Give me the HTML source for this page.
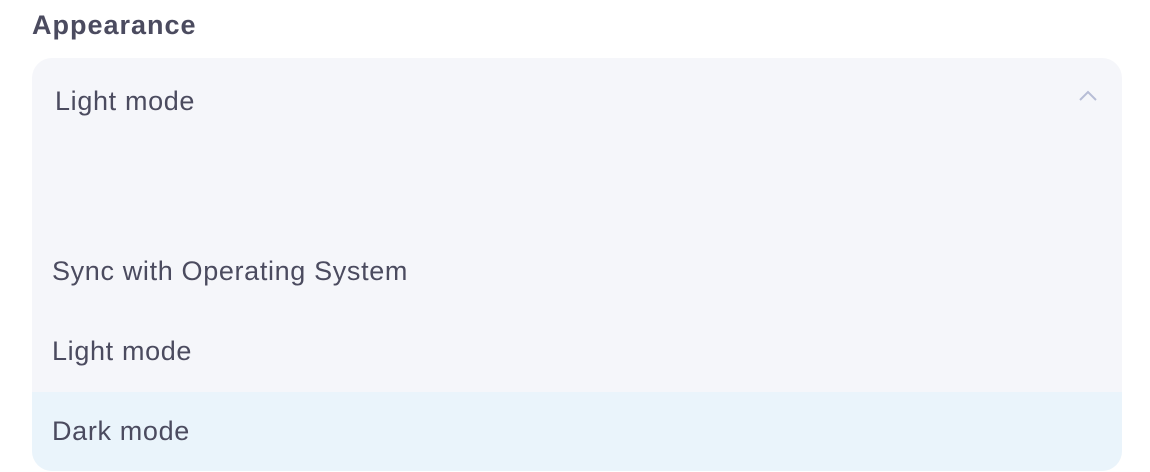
<!DOCTYPE html>
<html><head><style>
html,body{margin:0;padding:0;background:#fff;width:1150px;height:472px;overflow:hidden;font-family:"Liberation Sans",sans-serif;color:#4b4b5f}
.h{position:absolute;left:32px;top:10px;font-size:27px;font-weight:bold;color:#4b4b5f;letter-spacing:1px}
.box{position:absolute;left:32px;top:58px;width:1090px;height:413px;background:#f5f6fa;border-radius:20px;overflow:hidden}
.t{position:absolute;font-size:27px;letter-spacing:0.65px}
.hl{position:absolute;left:0;top:334px;width:1090px;height:79px;background:#eaf4fb}
</style></head><body>
<div class="h">Appearance</div>
<div class="box">
<div class="t" style="left:23px;top:28px">Light mode</div>
<svg style="position:absolute;left:1046px;top:32px" width="20" height="12"><polyline points="2,10 10,2 18,10" fill="none" stroke="#b7bdd6" stroke-width="2"/></svg>
<div class="t" style="left:20px;top:198px">Sync with Operating System</div>
<div class="t" style="left:20px;top:278px">Light mode</div>
<div class="hl"></div>
<div class="t" style="left:20px;top:358px">Dark mode</div>
</div>
</body></html>
